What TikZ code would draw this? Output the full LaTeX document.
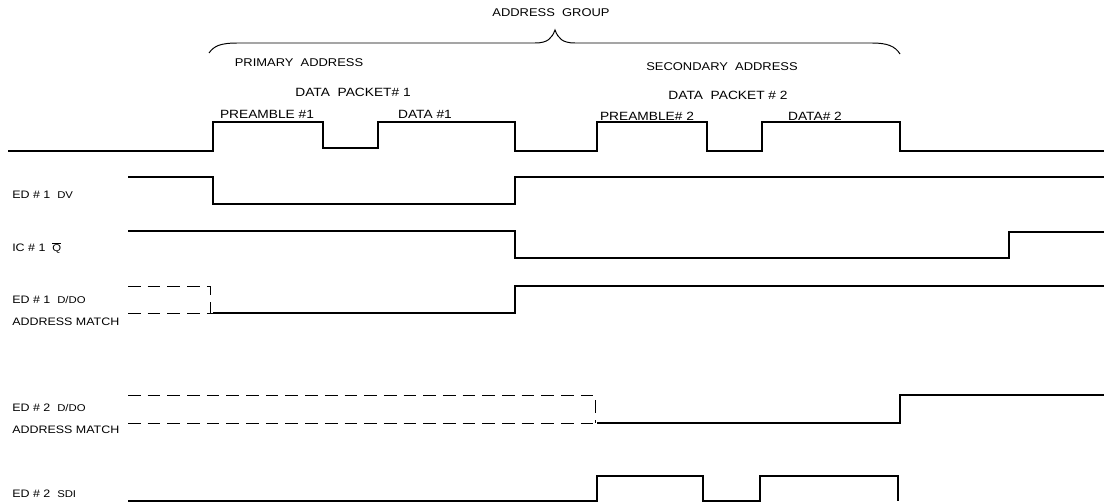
\documentclass[tikz,border=0pt]{standalone}
\usepackage{fontspec}
\setmainfont{Liberation Sans}
\newfontfamily\widesans[FakeStretch=1.15]{Liberation Sans}
\usetikzlibrary{positioning}
\tikzset{
  sig/.style={line width=0.9pt},
  hidden/.style={line width=0.7pt, dash pattern=on 9pt off 5pt},
  lbl/.style={anchor=west, inner sep=0pt, font=\widesans\fontsize{7.7}{9}\selectfont},
  toplbl/.style={inner sep=0pt, font=\widesans\fontsize{8}{9}\selectfont},
  pktlbl/.style={inner sep=0pt, font=\widesans\fontsize{8.5}{10}\selectfont},
}
\newcommand{\sigsmall}[1]{{\fontsize{7}{8}\selectfont #1}}

\begin{document}
\begin{tikzpicture}[x=0.025cm,y=-0.025cm]
    \useasboundingbox (0,0) rectangle (1104,503);

    % field names above the bus
    \node[toplbl] (grp)  at (551,13)  {ADDRESS\ \ GROUP};
    \node[toplbl] (prim) at (299,63)  {PRIMARY\ \ ADDRESS};
    \node[toplbl] (sec)  at (722,67)  {SECONDARY\ \ ADDRESS};
    \node[pktlbl] (pkt1) at (353,92)  {DATA\ \ PACKET\# 1};
    \node[pktlbl] (pkt2) at (728,95)  {DATA\ \ PACKET \# 2};
    \node[pktlbl] (pre1) at (267,114) {PREAMBLE \#1};
    \node[pktlbl] (dat1) at (425,114) {DATA \#1};
    \node[pktlbl] (pre2) at (647,116) {PREAMBLE\# 2};
    \node[pktlbl] (dat2) at (815,116) {DATA\# 2};

    % brace
    \draw[line width=0.7pt] (209,53) .. controls (214,46) and (220,43) .. (238,43)
        -- (535,43) .. controls (548,43) and (552,38) .. (555,30)
        .. controls (558,38) and (562,43) .. (575,43)
        -- (872,43) .. controls (887,43) and (895,46) .. (900,54);

    % signal names
    \node[lbl] (lDV)  at (12,195) {ED \# 1\ \ \sigsmall{DV}};
    \node[lbl] (lQ)   at (12,248) {IC \# 1\ \ \sigsmall{$\overline{\mbox{Q}}$}};
    \node[lbl] (lM1a) at (12,300) {ED \# 1\ \ \sigsmall{D/DO}};
    \node[lbl] (lM1b) at (12,322) {ADDRESS MATCH};
    \node[lbl] (lM2a) at (12,408) {ED \# 2\ \ \sigsmall{D/DO}};
    \node[lbl] (lM2b) at (12,430) {ADDRESS MATCH};
    \node[lbl] (lSDI) at (12,494) {ED \# 2\ \ \sigsmall{SDI}};

    % bus
    \draw[sig] (8,151) -| (213,122) -| (323,148) -| (378,122) -| (515,151)
        -| (597,122) -| (707,151) -| (762,122) -| (900,151) -- (1104,151);
    % ED#1 DV
    \draw[sig] (128,177) -| (213,204) -| (515,177) -- (1104,177);
    % IC#1 Q
    \draw[sig] (128,231) -| (515,258) -| (1009,232) -- (1104,232);
    % ED#1 address match
    \draw[hidden] (128,286) -| (210,313);
    \draw[hidden] (128,313) -- (213,313);
    \draw[sig] (213,313) -| (515,286) -- (1104,286);
    % ED#2 address match
    \draw[hidden] (128,395) -| (595,423);
    \draw[hidden] (128,423) -- (597,423);
    \draw[sig] (597,423) -| (900,395) -- (1104,395);
    % ED#2 SDI
    \draw[sig] (128,501) -| (597,476) -| (703,501) -| (760,476) -| (898,501);
\end{tikzpicture}
\end{document}
